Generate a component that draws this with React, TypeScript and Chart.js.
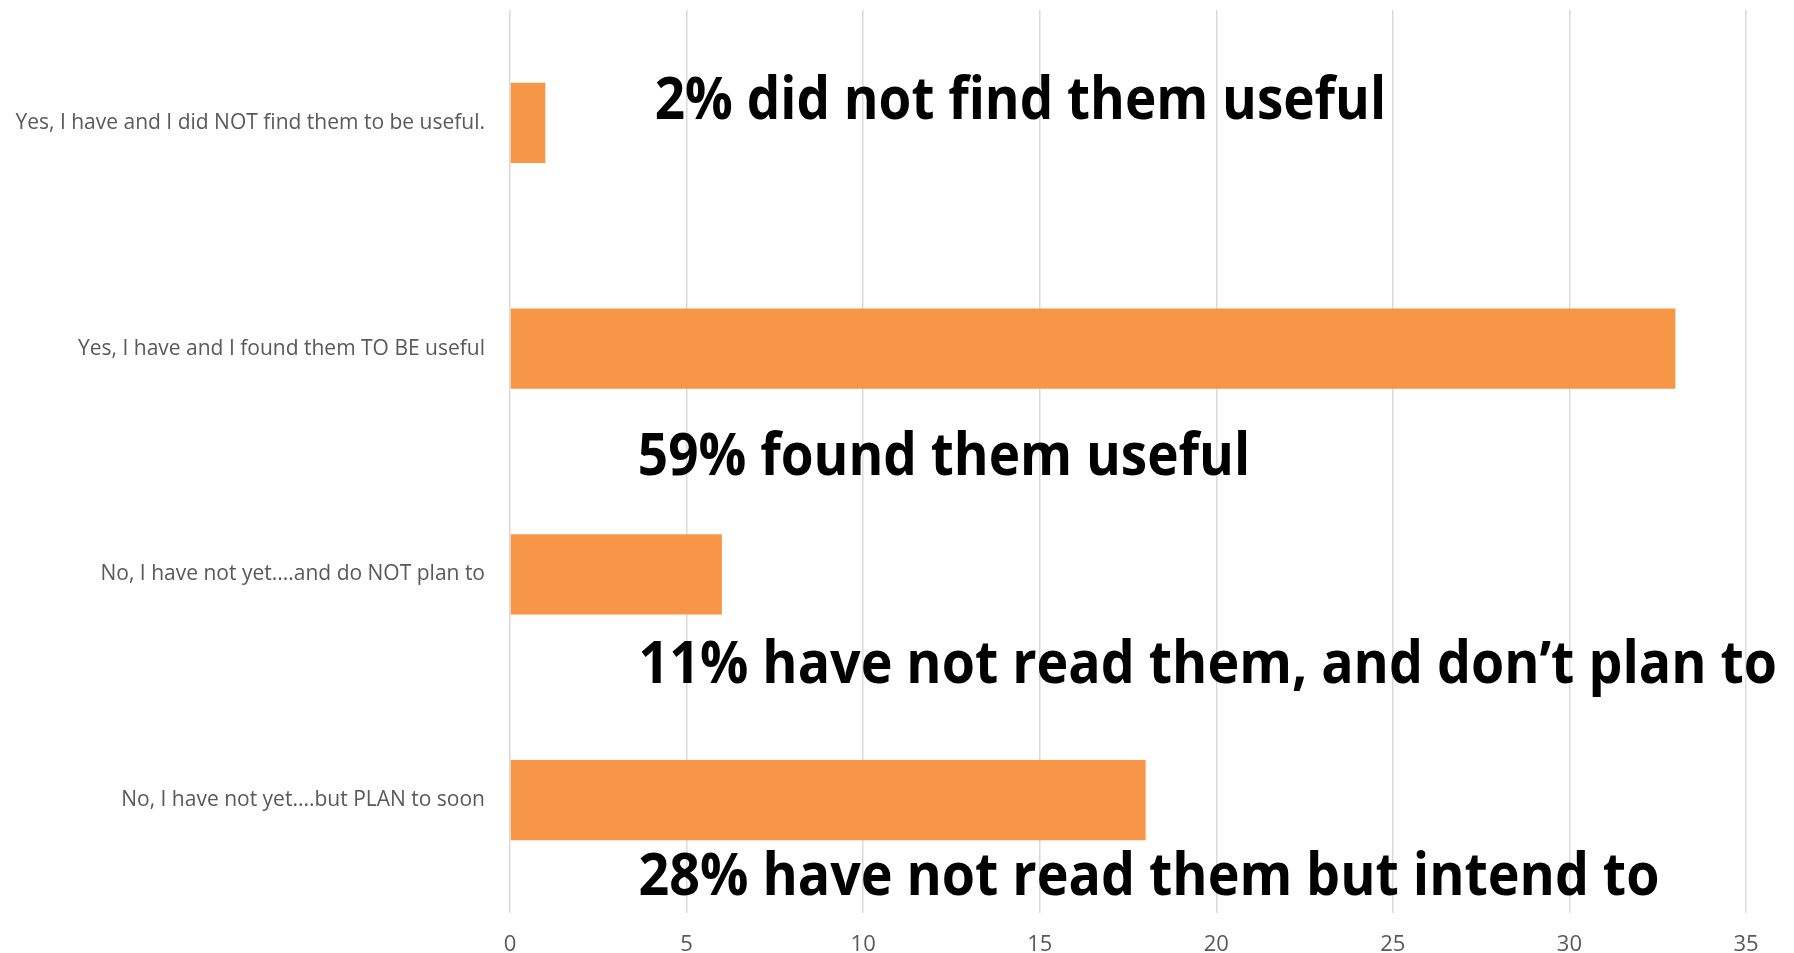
import React, { useEffect, useRef } from "react";
import { Chart, registerables } from "chart.js";

Chart.register(...registerables);

const categories = [
  "Yes, I have and I did NOT find them to be useful.",
  "Yes, I have and I found them TO BE useful",
  "No, I have not yet....and do NOT plan to",
  "No, I have not yet....but PLAN to soon",
];
const responses = [1, 33, 6, 18];
const axisMin = 0;
const axisMax = 35;
const axisStep = 5;

const noteTexts = [
  "2% did not find them useful",
  "59% found them useful",
  "11% have not read them, and don’t plan to",
  "28% have not read them but intend to",
];
// anchor of each note in axis units (start / end along value axis, baseline along category axis)
const noteStart = [4.1, 3.62, 3.64, 3.64];
const noteEnd = [24.81, 20.96, 35.88, 32.55];
const noteBaseline = [-0.018, 1.561, 2.479, 3.421];

const notesPlugin = {
  id: "notes",
  afterDatasetsDraw(chart: any) {
    const { ctx, scales } = chart;
    const x = scales.x;
    const y = scales.y;
    ctx.save();
    ctx.font = "700 59px 'Open Sans'";
    ctx.fillStyle = "#000000";
    ctx.textAlign = "left";
    ctx.textBaseline = "alphabetic";
    noteTexts.forEach((t, i) => {
      const px = x.getPixelForValue(noteStart[i]);
      const pe = x.getPixelForValue(noteEnd[i]);
      const py = y.getPixelForValue(noteBaseline[i]);
      ctx.fillText(t, px, py, pe - px);
    });
    ctx.restore();
  },
};

export default function App() {
  const ref = useRef<HTMLCanvasElement | null>(null);

  useEffect(() => {
    if (!ref.current) return;
    const chart = new Chart(ref.current, {
      type: "bar",
      data: {
        labels: categories,
        datasets: [
          {
            data: responses,
            backgroundColor: "#F79646",
            borderWidth: 0,
            categoryPercentage: 1,
            barPercentage: 0.355,
          },
        ],
      },
      options: {
        indexAxis: "y",
        animation: false,
        responsive: true,
        maintainAspectRatio: false,
        layout: { padding: { top: 10, right: 48, left: 0, bottom: 0 } },
        plugins: {
          legend: { display: false },
          tooltip: { enabled: false },
        },
        scales: {
          x: {
            min: axisMin,
            max: axisMax,
            ticks: {
              stepSize: axisStep,
              color: "#595959",
              font: { family: "'Open Sans'", size: 22 },
              padding: 19,
            },
            grid: {
              color: "#d9d9d9",
              lineWidth: 1.5,
              drawTicks: false,
            },
            border: { display: false },
            afterFit: (scale: any) => {
              scale.height = 40;
            },
          },
          y: {
            ticks: {
              color: "#595959",
              font: { family: "'Open Sans'", size: 21, lineHeight: 0.9 },
              padding: 0,
            },
            grid: { display: false, drawTicks: true, tickLength: 25 },
            border: { display: false },
            afterFit: (scale: any) => {
              scale.width = 510;
            },
          },
        },
      } as any,
      plugins: [notesPlugin],
    });
    return () => chart.destroy();
  }, []);

  return (
    <div
      style={{
        position: "fixed",
        top: 0,
        left: 0,
        width: "1794px",
        height: "953px",
        background: "#ffffff",
      }}
    >
      <canvas ref={ref} />
    </div>
  );
}
